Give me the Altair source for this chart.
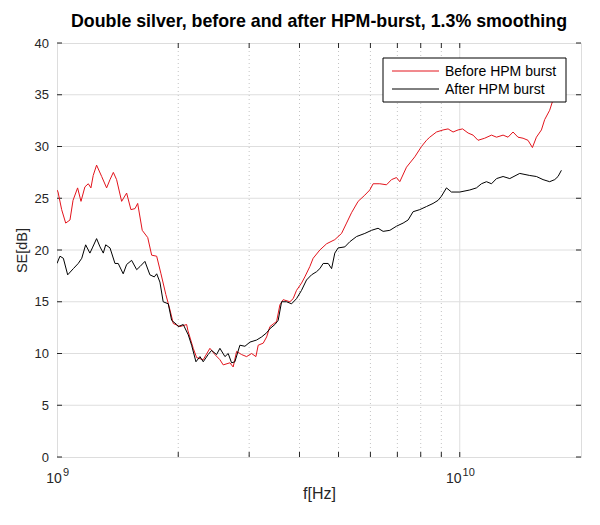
import altair as alt
import pandas as pd
import math

# Frequencies in GHz, SE in dB
before_f = [1.000, 1.006, 1.027, 1.051, 1.077, 1.096, 1.125, 1.147, 1.173, 1.196,
            1.214, 1.230, 1.254, 1.291, 1.328, 1.354, 1.380, 1.406, 1.447, 1.489,
            1.526, 1.562, 1.586, 1.628, 1.680, 1.718, 1.768, 1.812, 1.863, 1.908,
            1.944, 2.020, 2.098, 2.114, 2.179, 2.222, 2.307, 2.397, 2.466, 2.538,
            2.586, 2.687, 2.738, 2.792, 2.872, 2.956, 3.042, 3.118, 3.159, 3.251,
            3.315, 3.378, 3.510, 3.576, 3.644, 3.786, 3.858, 3.933, 4.047, 4.124,
            4.244, 4.325, 4.494, 4.670, 4.895, 5.087, 5.235, 5.386, 5.593, 5.811,
            5.979, 6.094, 6.331, 6.579, 6.769, 6.965, 7.098, 7.375, 7.733, 8.035,
            8.268, 8.425, 8.754, 9.091, 9.354, 9.625, 9.903, 10.16, 10.49, 10.79,
            11.10, 11.53, 11.99, 12.34, 12.81, 13.18, 13.56, 13.95, 14.36, 14.77,
            15.15, 15.50, 15.95, 16.25, 16.72, 17.04, 17.54, 17.81]
before_se = [25.8, 25.6, 23.9, 22.6, 22.9, 24.8, 26.0, 24.7, 26.1, 26.4,
             26.0, 27.2, 28.2, 27.1, 26.0, 26.8, 27.5, 26.8, 24.7, 25.5,
             23.9, 24.0, 24.5, 21.9, 21.2, 19.5, 19.4, 17.7, 15.7, 14.2,
             12.9, 12.6, 12.8, 12.2, 10.5, 9.6, 9.4, 10.5, 9.9, 9.4,
             8.9, 9.1, 8.7, 10.2, 9.9, 9.7, 10.0, 9.7, 10.8, 11.0,
             11.6, 12.6, 13.1, 14.7, 15.2, 15.0, 15.3, 16.1, 16.8, 17.4,
             18.4, 19.2, 20.0, 20.6, 21.0, 21.6, 22.6, 23.6, 24.7, 25.3,
             25.8, 26.4, 26.4, 26.3, 26.8, 27.0, 26.6, 28.0, 29.0, 30.0,
             30.6, 30.9, 31.4, 31.6, 31.7, 31.4, 31.6, 31.7, 31.3, 31.1,
             30.6, 30.8, 31.1, 30.9, 31.1, 30.9, 31.4, 30.9, 30.8, 30.6,
             29.9, 30.9, 31.6, 32.6, 33.5, 34.5, 35.6, 36.4]

after_f = [1.000, 1.017, 1.037, 1.063, 1.098, 1.129, 1.152, 1.178, 1.207, 1.224,
           1.254, 1.279, 1.303, 1.321, 1.354, 1.393, 1.419, 1.460, 1.489, 1.532,
           1.577, 1.607, 1.653, 1.701, 1.744, 1.768, 1.801, 1.835, 1.889, 1.926,
           1.982, 2.000, 2.058, 2.118, 2.159, 2.213, 2.264, 2.307, 2.373, 2.420,
           2.490, 2.538, 2.612, 2.661, 2.713, 2.765, 2.845, 2.928, 3.013, 3.130,
           3.221, 3.315, 3.378, 3.475, 3.541, 3.611, 3.715, 3.823, 3.933, 4.047,
           4.164, 4.285, 4.409, 4.494, 4.580, 4.713, 4.806, 4.895, 4.989, 5.183,
           5.333, 5.543, 5.811, 6.037, 6.269, 6.452, 6.705, 6.965, 7.233, 7.443,
           7.658, 7.956, 8.268, 8.585, 8.836, 9.008, 9.268, 9.537, 10.00, 10.59,
           11.00, 11.32, 11.65, 11.99, 12.34, 12.81, 13.31, 14.09, 14.92, 15.50,
           16.10, 16.72, 17.21, 17.54, 17.88]
after_se = [18.7, 19.4, 19.2, 17.6, 18.2, 18.7, 19.2, 20.5, 19.7, 20.2,
            21.1, 20.3, 19.7, 20.5, 20.2, 18.7, 18.7, 17.7, 18.6, 19.0,
            18.1, 18.4, 18.9, 17.6, 17.4, 17.7, 16.9, 15.0, 14.8, 13.2,
            12.8, 12.6, 12.8, 11.8, 10.8, 9.2, 9.7, 9.2, 9.9, 10.3,
            9.9, 10.5, 9.7, 10.0, 9.1, 9.2, 10.8, 10.7, 11.1, 11.3,
            11.6, 12.0, 12.4, 12.8, 13.2, 15.0, 15.0, 14.8, 15.3, 16.1,
            17.1, 17.6, 17.9, 18.2, 18.7, 18.7, 18.2, 19.7, 20.2, 20.3,
            20.8, 21.3, 21.6, 21.9, 22.1, 21.8, 21.9, 22.3, 22.6, 22.9,
            23.7, 23.9, 24.2, 24.5, 24.8, 25.2, 26.0, 25.6, 25.6, 25.8,
            26.0, 26.4, 26.6, 26.4, 26.9, 27.1, 26.9, 27.4, 27.2, 27.1,
            26.8, 26.6, 26.8, 27.1, 27.7]

series_names = ["Before HPM burst", "After HPM burst"]
series_colors = ["#e3141c", "#000000"]

y_ticks = [0, 5, 10, 15, 20, 25, 30, 35, 40]
y_grid = [5, 10, 15, 20, 25, 30, 35]
x_minor = [2e9, 3e9, 4e9, 5e9, 6e9, 7e9, 8e9, 9e9]
x_major = [1e9, 1e10]
x_all_ticks = [2e9, 3e9, 4e9, 5e9, 6e9, 7e9, 8e9, 9e9, 1e10]

W, H = 524, 414
FONT = "Liberation Sans"
TXT = "#262626"

rows = []
for f, v in zip(before_f, before_se):
    rows.append({"f": f * 1e9, "se": v, "s": series_names[0]})
for f, v in zip(after_f, after_se):
    rows.append({"f": f * 1e9, "se": v, "s": series_names[1]})
df = pd.DataFrame(rows)

xscale = alt.Scale(type="log", domain=[1e9, 2e10])
yscale = alt.Scale(domain=[0, 40])

hgrid = alt.Chart(pd.DataFrame({"v": y_grid})).mark_rule(
    color="#dedede", strokeWidth=1
).encode(y=alt.Y("v:Q", scale=yscale))

vminor = alt.Chart(pd.DataFrame({"f": x_minor})).mark_rule(
    color="#c4c4c4", strokeWidth=1, strokeDash=[1, 3]
).encode(x=alt.X("f:Q", scale=xscale))

vmajor = alt.Chart(pd.DataFrame({"f": [1e10]})).mark_rule(
    color="#dedede", strokeWidth=1
).encode(x=alt.X("f:Q", scale=xscale))

xt = pd.DataFrame({"f": x_all_ticks})
xtick_bot = alt.Chart(xt).mark_rule(color=TXT).encode(
    x=alt.X("f:Q", scale=xscale), y=alt.value(H), y2=alt.value(H - 5))
xtick_top = alt.Chart(xt).mark_rule(color=TXT).encode(
    x=alt.X("f:Q", scale=xscale), y=alt.value(0), y2=alt.value(5))

yt = pd.DataFrame({"v": y_ticks})
ytick_l = alt.Chart(yt).mark_rule(color=TXT).encode(
    y=alt.Y("v:Q", scale=yscale), x=alt.value(0), x2=alt.value(5))
ytick_r = alt.Chart(yt).mark_rule(color=TXT).encode(
    y=alt.Y("v:Q", scale=yscale), x=alt.value(W - 5), x2=alt.value(W))

# x tick labels as 10^n with a real superscript
xlabel_layers = []
for v in x_major:
    exp = str(int(round(math.log10(v))))
    ew = 6.2 * len(exp)
    d = pd.DataFrame({"f": [v], "base": ["10"], "exp": [exp]})
    xlabel_layers.append(alt.Chart(d).mark_text(
        font=FONT, fontSize=14, color=TXT, align="right", baseline="alphabetic",
        dx=(16 - ew) / 2).encode(
        x=alt.X("f:Q", scale=xscale), y=alt.value(H + 26), text="base:N"))
    xlabel_layers.append(alt.Chart(d).mark_text(
        font=FONT, fontSize=11, color=TXT, align="left", baseline="alphabetic",
        dx=(16 - ew) / 2 + 1).encode(
        x=alt.X("f:Q", scale=xscale), y=alt.value(H + 19), text="exp:N"))

lines = alt.Chart(df).mark_line(strokeWidth=1, clip=True).encode(
    x=alt.X("f:Q", scale=xscale, title="f[Hz]",
            axis=alt.Axis(values=x_major, ticks=False, grid=False, domain=False,
                          labels=False, titleFontSize=16, titleFont=FONT,
                          titleFontWeight="normal", titleColor=TXT, titlePadding=28)),
    y=alt.Y("se:Q", scale=yscale, title="SE[dB]",
            axis=alt.Axis(values=y_ticks, ticks=False, grid=False, domain=False,
                          labelFontSize=13, labelColor=TXT, labelFont=FONT,
                          labelPadding=8.5, titleFontSize=14.5, titleFont=FONT,
                          titleFontWeight="normal", titleColor=TXT, titlePadding=5)),
    color=alt.Color("s:N", scale=alt.Scale(domain=series_names, range=series_colors),
                    legend=None),
    detail="s:N",
    order=alt.Order("f:Q"),
)

# legend box (drawn on top of the lines, like the reference)
leg_box = alt.Chart(pd.DataFrame({"k": [0]})).mark_rect(
    fill="#ffffff", stroke="#000000", strokeWidth=1).encode(
    x=alt.value(326), x2=alt.value(509), y=alt.value(15), y2=alt.value(59))
leg_layers = [leg_box]
for i, (name, col) in enumerate(zip(series_names, series_colors)):
    ly = 28 + i * 18
    d = pd.DataFrame({"s": [name]})
    leg_layers.append(alt.Chart(d).mark_rule(color=col, strokeWidth=1).encode(
        x=alt.value(335), x2=alt.value(382), y=alt.value(ly)))
    leg_layers.append(alt.Chart(d).mark_text(
        font=FONT, fontSize=14, color="#000000", align="left",
        baseline="alphabetic").encode(
        x=alt.value(388), y=alt.value(ly + 5), text="s:N"))

chart = alt.layer(hgrid, vminor, vmajor, xtick_bot, xtick_top, ytick_l, ytick_r,
                  lines, *xlabel_layers, *leg_layers).properties(
    width=W, height=H,
    title=alt.Title("Double silver, before and after HPM-burst, 1.3% smoothing",
                    fontSize=17.8, font=FONT, fontWeight="bold", color="#000000",
                    anchor="middle", offset=6),
    autosize=alt.AutoSizeParams(type="none"),
    padding={"left": 49, "top": 35, "right": 11, "bottom": 60},
).configure_view(stroke=TXT, strokeWidth=1).configure(background="#ffffff")

chart.save("out.html", embed_options={"renderer": "svg", "actions": False})
